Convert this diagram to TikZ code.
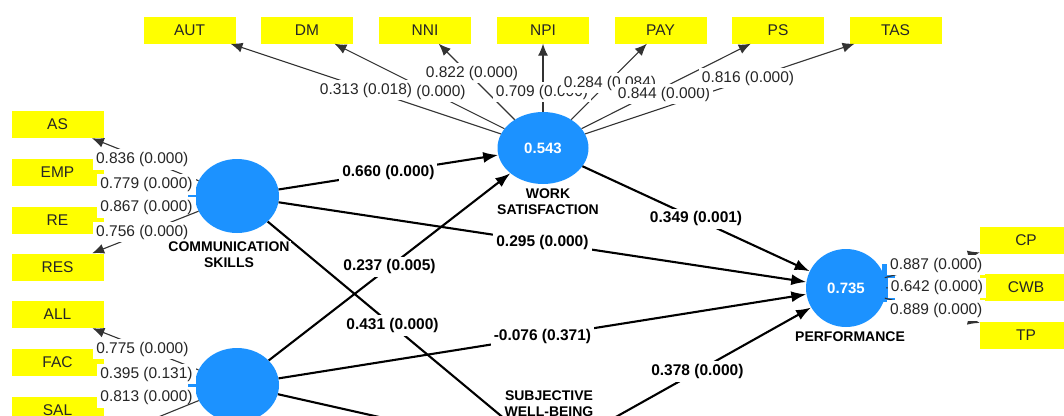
\documentclass[tikz,border=0pt]{standalone}
\usepackage{fontspec}
\setmainfont{Liberation Sans}
\usetikzlibrary{shapes.geometric,arrows.meta}
\definecolor{lvblue}{RGB}{28,146,255}
\definecolor{indyellow}{RGB}{255,255,0}
\begin{document}
\begin{tikzpicture}[x=1pt,y=-1pt,
 ind/.style={fill=indyellow, minimum width=92pt, minimum height=27pt, inner sep=0pt, font=\fontsize{15.5}{18}\selectfont, text=black!85},
 lv/.style={ellipse, fill=lvblue, inner sep=0pt, minimum width=84pt, minimum height=74pt, text=white, font=\bfseries\fontsize{15}{18}\selectfont},
 lvname/.style={fill=white, inner sep=1pt, align=center, font=\bfseries\fontsize{14}{16}\selectfont},
 loading/.style={draw=black!80, line width=1.1pt, -{Latex[length=12pt,width=10pt]}},
 coef/.style={draw=black, line width=2.1pt, -{Latex[length=15pt,width=11pt]}},
 lbl/.style={fill=white, inner xsep=3pt, inner ysep=3pt, font=\fontsize{15.5}{18}\selectfont, text=black!85},
 blbl/.style={fill=white, inner xsep=3pt, inner ysep=3pt, font=\bfseries\fontsize{15.5}{18}\selectfont, text=black}
]
\useasboundingbox (0,0) rectangle (1064,415);

% indicator boxes
\node[ind] (AUT) at (189.5,30) {AUT};
\node[ind] (DM)  at (307,30) {DM};
\node[ind] (NNI) at (425,30) {NNI};
\node[ind] (NPI) at (543,30) {NPI};
\node[ind] (PAY) at (660.5,30) {PAY};
\node[ind] (PS)  at (778,30) {PS};
\node[ind] (TAS) at (895.5,30) {TAS};
\node[ind] (AS)  at (57.5,124.5) {AS};
\node[ind] (EMP) at (57.5,172.5) {EMP};
\node[ind] (RE)  at (57.5,220) {RE};
\node[ind] (RES) at (57.5,267) {RES};
\node[ind] (ALL) at (57.5,314.5) {ALL};
\node[ind] (FAC) at (57.5,362.5) {FAC};
\node[ind] (SAL) at (57.5,410.5) {SAL};
\node[ind] (CP)  at (1026,240) {CP};
\node[ind] (CWB) at (1026,287.5) {CWB};
\node[ind] (TP)  at (1026,335) {TP};
\coordinate (ind4) at (57.5,458);

% stubs
\fill[lvblue] (188,193.5) rectangle (200,199.5);
\fill[lvblue] (188,383) rectangle (200,389);
\fill[lvblue] (882,264) rectangle (895,302);

% latent variables
\node[lv] (comm) at (237,196) {};
\node[lv, minimum width=91pt, minimum height=72pt] (work) at (543,148) {0.543};
\node[lv, minimum width=80pt, minimum height=78pt] (perf) at (846,288) {0.735};
\node[lv] (soc) at (237,385) {};
\node[lv] (swb) at (548,455) {};

% loadings: work satisfaction
\draw[loading] (work) -- (AUT);
\draw[loading] (work) -- (DM);
\draw[loading] (work) -- (NNI);
\draw[loading] (work) -- (NPI);
\draw[loading] (work) -- (PAY);
\draw[loading] (work) -- (PS);
\draw[loading] (work) -- (TAS);

% loadings: communication skills
\draw[loading] (comm) -- node[lbl,pos=.5,xshift=-3pt] {0.836 (0.000)} (AS);
\draw[loading] (comm) -- node[lbl,pos=.5,xshift=-3pt] {0.779 (0.000)} (EMP);
\draw[loading] (comm) -- node[lbl,pos=.5,xshift=-3pt] {0.867 (0.000)} (RE);
\draw[loading] (comm) -- node[lbl,pos=.5,xshift=-3pt] {0.756 (0.000)} (RES);

% loadings: lower construct
\draw[loading] (soc) -- node[lbl,pos=.5,xshift=-3pt] {0.775 (0.000)} (ALL);
\draw[loading] (soc) -- node[lbl,pos=.5,xshift=-3pt] {0.395 (0.131)} (FAC);
\draw[loading] (soc) -- node[lbl,pos=.5,xshift=-3pt] {0.813 (0.000)} (SAL);
\draw[loading] (soc) -- (ind4);

% loadings: performance
\draw[loading] (perf) -- node[lbl,pos=.5,xshift=4pt] {0.887 (0.000)} (CP);
\draw[loading] (perf) -- node[lbl,pos=.5,xshift=4pt] {0.642 (0.000)} (CWB);
\draw[loading] (perf) -- node[lbl,pos=.5,xshift=4pt] {0.889 (0.000)} (TP);

% structural paths
\draw[coef] (comm) -- node[blbl,pos=.5] {0.660 (0.000)} (work);
\draw[coef] (comm) -- node[blbl,pos=.5] {0.295 (0.000)} (perf);
\draw[coef] (soc) -- node[blbl,pos=.5] {0.237 (0.005)} (work);
\draw[coef] (comm) -- node[blbl,pos=.5] {0.431 (0.000)} (swb);
\draw[coef] (soc) -- node[blbl,pos=.5] {-0.076 (0.371)} (perf);
\draw[coef] (work) -- node[blbl,pos=.5] {0.349 (0.001)} (perf);
\draw[coef] (swb) -- node[blbl,pos=.5] {0.378 (0.000)} (perf);
\draw[coef] (soc) -- (swb);

% top loading labels
\node[lbl] (lDM)  at (441,92) {(0.000)};
\node[lbl] (lAUT) at (366,90) {0.313 (0.018)};
\node[lbl] (lNNI) at (472,73) {0.822 (0.000)};
\node[lbl] (lNPI) at (542,92) {0.709 (0.000)};
\node[lbl] (lPAY) at (610,83) {0.284 (0.084)};
\node[lbl] (lPS)  at (664,94) {0.844 (0.000)};
\node[lbl] (lTAS) at (748,78) {0.816 (0.000)};

% construct names
\node[lvname] (ncomm) at (229,255) {COMMUNICATION\\SKILLS};
\node[lvname] (nwork) at (548,201.5) {WORK\\SATISFACTION};
\node[lvname] (nperf) at (850,337) {PERFORMANCE};
\node[lvname] (nswb) at (549,404) {SUBJECTIVE\\WELL-BEING};
\end{tikzpicture}
\end{document}
